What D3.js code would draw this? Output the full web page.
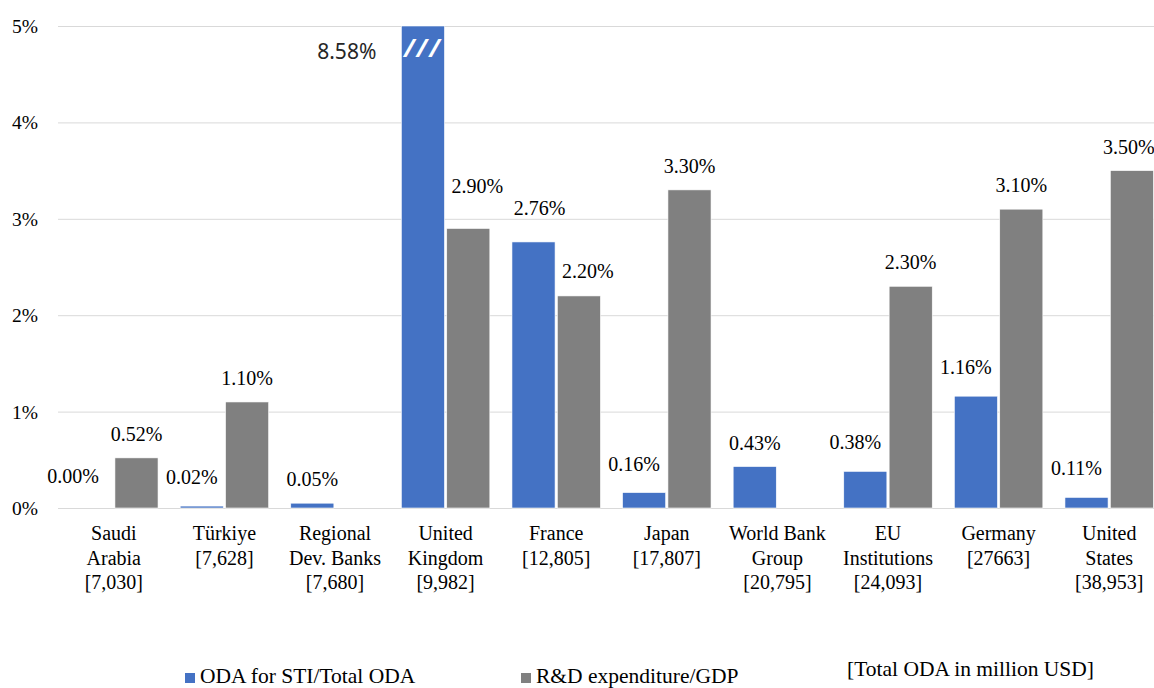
<!DOCTYPE html>
<html>
<head>
<meta charset="utf-8">
<script src="https://cdn.jsdelivr.net/npm/d3@7"></script>
<style>
  body { margin: 0; background: #fff; }
</style>
</head>
<body>
<svg id="chart" width="1154" height="688"></svg>
<script>
// categories with total ODA (million USD) on the second/third line
var categories = ["Saudi Arabia", "Türkiye", "Regional Dev. Banks", "United Kingdom", "France",
                  "Japan", "World Bank Group", "EU Institutions", "Germany", "United States"];
var categoryLines = [["Saudi", "Arabia", "[7,030]"], ["Türkiye", "[7,628]"], ["Regional", "Dev. Banks", "[7,680]"],
                     ["United", "Kingdom", "[9,982]"], ["France", "[12,805]"], ["Japan", "[17,807]"],
                     ["World Bank", "Group", "[20,795]"], ["EU", "Institutions", "[24,093]"],
                     ["Germany", "[27663]"], ["United", "States", "[38,953]"]];
var odaSti = [0.00, 0.02, 0.05, 8.58, 2.76, 0.16, 0.43, 0.38, 1.16, 0.11];
var rdGdp  = [0.52, 1.10, null, 2.90, 2.20, 3.30, null, 2.30, 3.10, 3.50];
var yTicks = [0, 1, 2, 3, 4, 5];
var seriesNames = ["ODA for STI/Total ODA", "R&D expenditure/GDP"];
var colors = ["#4472C4", "#808080"];

var serif = "Liberation Serif";
var sans = "Noto Sans";

// label nudges (pixels) where the original moved a label by hand
var labelNudge = { "Saudi Arabia|0": [-8, -3], "France|0": [16, -5], "United Kingdom|1": [9, -18],
                   "France|1": [9, -1], "United States|1": [-3, 0] };

var svg = d3.select("#chart");
var margin = { left: 58.5, right: 1164.5, top: 26, bottom: 508 };

var x0 = d3.scaleBand().domain(categories).range([margin.left, margin.right])
    .paddingInner(0.2).paddingOuter(0.1);
var x1 = d3.scaleBand().domain([0, 1]).range([0, x0.bandwidth()]).paddingInner(0.05);
var y = d3.scaleLinear().domain([0, 5]).range([margin.bottom, margin.top]).clamp(true);

// gridlines
svg.append("g").selectAll("line").data(yTicks).join("line")
    .attr("x1", 58).attr("x2", 1154)
    .attr("y1", function(d) { return y(d) + 0.5; }).attr("y2", function(d) { return y(d) + 0.5; })
    .attr("stroke", "#d9d9d9").attr("stroke-width", 1);

svg.append("g").selectAll("text").data(yTicks).join("text")
    .attr("x", 38).attr("y", function(d) { return y(d) + 7; })
    .attr("text-anchor", "end").attr("font-size", 19.5).style("font-family", serif)
    .text(function(d) { return d + "%"; });

var rows = [];
categories.forEach(function(c, i) {
    rows.push({ cat: c, s: 0, v: odaSti[i], alone: rdGdp[i] === null });
    if (rdGdp[i] !== null) rows.push({ cat: c, s: 1, v: rdGdp[i], alone: false });
});

svg.append("g").selectAll("rect").data(rows).join("rect")
    .attr("x", function(d) { return x0(d.cat) + x1(d.s); })
    .attr("width", x1.bandwidth())
    .attr("y", function(d) { return y(d.v); })
    .attr("height", function(d) { return y(0) - y(d.v); })
    .attr("fill", function(d) { return colors[d.s]; })
    .attr("stroke", "#fff").attr("stroke-width", 0.6);

// data labels
svg.append("g").selectAll("text").data(rows).join("text")
    .attr("x", function(d) {
        var n = labelNudge[d.cat + "|" + d.s] || [0, 0];
        var cx = x0(d.cat) + x1(d.s) + x1.bandwidth() / 2;
        if (d.v > 5) return x0(d.cat) - 25;
        return cx + (d.s === 0 && !d.alone ? -10 : 0) + n[0];
    })
    .attr("y", function(d) {
        var n = labelNudge[d.cat + "|" + d.s] || [0, 0];
        if (d.v > 5) return 59;
        return y(d.v) + (d.s === 0 && !d.alone ? -22 : -17) + n[1];
    })
    .attr("text-anchor", function(d) { return d.v > 5 ? "end" : "middle"; })
    .attr("font-size", function(d) { return d.v > 5 ? 21 : 20; })
    .style("font-family", function(d) { return d.v > 5 ? sans : serif; })
    .attr("fill", function(d) { return d.v > 5 ? "#262626" : "#000"; })
    .text(function(d) { return d.v.toFixed(2) + "%"; });

// break mark on the capped bar
rows.filter(function(d) { return d.v > 5; }).forEach(function(d) {
    svg.append("text")
        .attr("x", x0(d.cat) + x1(d.s) + x1.bandwidth() / 2)
        .attr("y", 57)
        .attr("text-anchor", "middle")
        .attr("font-size", 25).attr("font-weight", "bold")
        .attr("letter-spacing", 2)
        .style("font-family", sans)
        .attr("font-style", "italic")
        .attr("fill", "#fff")
        .text("///");
});

// category labels
var catG = svg.append("g").selectAll("text").data(categories).join("text")
    .attr("text-anchor", "middle").attr("font-size", 20).style("font-family", serif);
catG.each(function(c, i) {
    var t = d3.select(this);
    categoryLines[i].forEach(function(line, k) {
        t.append("tspan").attr("x", x0(c) + x0.bandwidth() / 2)
            .attr("y", 540 + k * 24.5).text(line);
    });
});

// legend
var legendX = [185, 521];
seriesNames.forEach(function(name, i) {
    svg.append("rect").attr("x", legendX[i]).attr("y", 673).attr("width", 10).attr("height", 10)
        .attr("fill", colors[i]);
    svg.append("text").attr("x", legendX[i] + 15).attr("y", 683).attr("font-size", 21.5)
        .style("font-family", serif).text(name);
});
svg.append("text").attr("x", 847).attr("y", 676).attr("font-size", 21.5)
    .style("font-family", serif).text("[Total ODA in million USD]");
</script>
</body>
</html>
